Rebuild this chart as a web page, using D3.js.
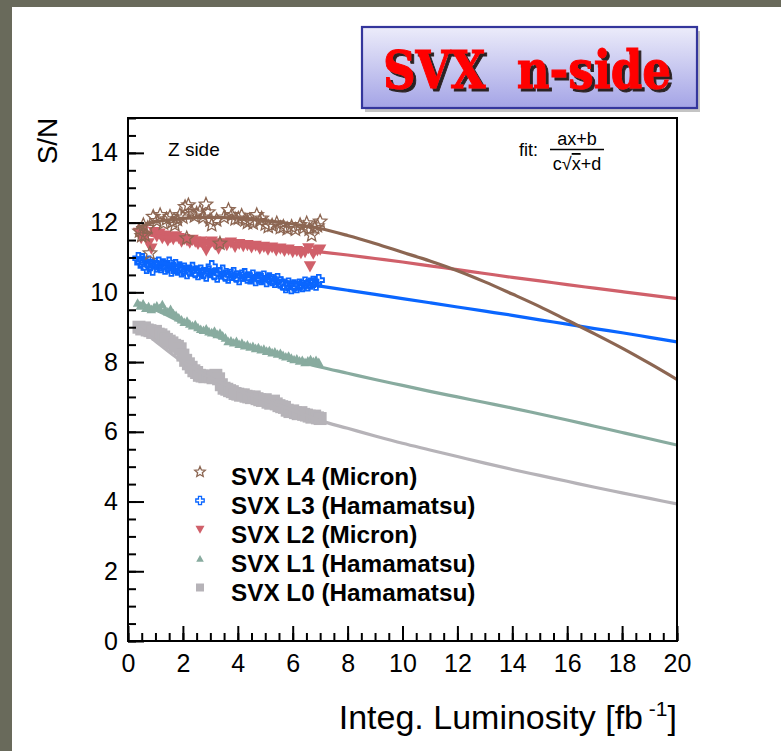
<!DOCTYPE html>
<html>
<head>
<meta charset="utf-8">
<script src="https://cdn.jsdelivr.net/npm/d3@7"></script>
<style>
  body { margin: 0; background: #ffffff; }
  svg { display: block; font-family: "Liberation Sans", Arial, sans-serif; }
</style>
</head>
<body>
<svg id="chart" width="781" height="751"></svg>
<script>
// ---- Measured S/N vs integrated luminosity (fb^-1), Z side, n-side strips ----
const l4Lumi = [0.42,0.50,0.56,0.62,0.72,0.80,0.92,1.05,1.17,1.29,1.40,1.53,1.62,1.71,1.80,1.89,2.00,2.08,2.14,2.20,2.32,2.42,2.50,2.62,2.74,2.84,2.93,2.99,3.05,3.23,3.35,3.50,3.66,3.78,3.90,4.02,4.14,4.26,4.35,4.44,4.56,4.69,4.80,4.87,5.00,5.11,5.25,5.42,5.55,5.66,5.80,5.96,6.10,6.27,6.40,6.51,6.60,6.69,6.80,6.90,7.00];
const l4SN   = [11.75,11.62,11.93,11.64,11.85,11.12,12.17,12.05,12.22,11.98,12.10,12.17,12.02,11.93,12.08,12.22,12.15,12.45,11.55,12.50,12.31,12.18,12.26,12.31,12.15,12.52,12.30,12.07,11.93,12.07,11.40,12.15,12.36,12.22,12.10,12.12,12.20,12.07,12.00,12.07,11.98,12.22,12.05,12.12,11.95,11.88,11.92,11.98,11.85,11.88,11.82,11.88,11.80,11.93,11.85,11.98,11.80,11.64,11.85,11.90,12.03];

const l3Lumi = [0.38,0.45,0.52,0.60,0.68,0.75,0.82,0.90,0.98,1.05,1.12,1.20,1.28,1.35,1.43,1.50,1.58,1.65,1.73,1.80,1.88,1.95,2.05,2.15,2.25,2.35,2.45,2.55,2.65,2.75,2.85,2.95,3.05,3.15,3.25,3.35,3.45,3.55,3.65,3.75,3.85,3.95,4.05,4.15,4.25,4.35,4.45,4.55,4.65,4.75,4.85,4.95,5.05,5.15,5.25,5.35,5.45,5.55,5.65,5.75,5.85,5.95,6.05,6.15,6.25,6.35,6.45,6.55,6.65,6.75,6.85,6.95];
const l3SN   = [10.98,10.85,10.95,10.80,10.70,10.88,10.78,10.65,10.82,10.75,10.85,10.72,10.80,10.68,10.75,10.85,10.62,10.70,10.78,10.65,10.72,10.60,10.68,10.55,10.62,10.70,10.58,10.52,10.62,10.55,10.48,10.60,10.75,10.52,10.45,10.55,10.62,10.48,10.42,10.50,10.55,10.45,10.38,10.48,10.52,10.42,10.40,10.48,10.35,10.42,10.38,10.45,10.32,10.40,10.35,10.30,10.38,10.28,10.22,10.15,10.25,10.12,10.20,10.15,10.22,10.18,10.28,10.20,10.25,10.30,10.22,10.35];

const l2Lumi = [0.40,0.48,0.55,0.65,0.75,0.85,0.95,1.05,1.15,1.25,1.35,1.45,1.55,1.65,1.75,1.85,1.95,2.05,2.15,2.25,2.35,2.45,2.55,2.65,2.75,2.85,2.95,3.05,3.15,3.30,3.45,3.60,3.75,3.90,4.05,4.20,4.35,4.50,4.65,4.80,4.95,5.10,5.25,5.40,5.55,5.70,5.85,6.00,6.15,6.30,6.45,6.57,6.63,6.75,6.90,7.00];
const l2SN   = [11.70,11.55,11.78,11.62,11.40,11.25,11.72,11.60,11.68,11.55,11.62,11.48,11.58,11.52,11.60,11.55,11.45,11.52,11.48,11.42,11.50,11.45,11.38,11.45,11.35,11.20,11.40,11.45,11.38,11.25,11.40,11.35,11.42,11.30,11.38,11.32,11.35,11.28,11.33,11.25,11.30,11.22,11.28,11.20,11.25,11.18,11.22,11.15,11.18,11.12,11.15,11.26,10.74,11.10,11.20,11.22];

const l1Lumi = [0.35,0.45,0.55,0.65,0.75,0.85,0.95,1.05,1.15,1.25,1.35,1.45,1.55,1.65,1.75,1.85,1.95,2.05,2.15,2.25,2.35,2.45,2.55,2.65,2.75,2.85,2.95,3.05,3.15,3.25,3.35,3.45,3.55,3.65,3.75,3.85,3.95,4.05,4.15,4.25,4.35,4.45,4.55,4.65,4.75,4.85,4.95,5.05,5.15,5.25,5.35,5.45,5.55,5.65,5.75,5.85,5.95,6.05,6.15,6.25,6.35,6.45,6.55,6.65,6.75,6.85,6.95];
const l1SN   = [9.70,9.62,9.68,9.55,9.60,9.52,9.58,9.62,9.55,9.66,9.50,9.45,9.52,9.40,9.35,9.28,9.22,9.15,9.18,9.10,9.05,9.08,9.00,8.95,8.92,8.96,8.88,8.85,8.90,8.80,8.84,8.76,8.70,8.60,8.62,8.56,8.60,8.52,8.55,8.48,8.50,8.44,8.46,8.40,8.42,8.36,8.38,8.32,8.34,8.28,8.30,8.24,8.26,8.20,8.16,8.18,8.12,8.08,8.10,8.04,8.06,8.00,8.04,8.08,8.02,8.06,8.00];

const l0Lumi = [0.40,0.50,0.60,0.70,0.80,0.90,1.00,1.10,1.20,1.30,1.40,1.50,1.60,1.70,1.80,1.90,2.00,2.10,2.20,2.30,2.40,2.50,2.60,2.70,2.80,2.90,3.00,3.10,3.20,3.30,3.40,3.50,3.60,3.70,3.80,3.90,4.00,4.10,4.20,4.30,4.40,4.50,4.60,4.70,4.80,4.90,5.00,5.10,5.20,5.30,5.40,5.50,5.60,5.70,5.80,5.90,6.00,6.10,6.20,6.30,6.40,6.50,6.60,6.70,6.80,6.90,7.00];
const l0SN   = [9.00,8.95,8.98,8.92,8.90,8.85,8.88,8.80,8.78,8.72,8.65,8.60,8.55,8.48,8.45,8.38,8.20,8.05,7.95,7.85,7.75,7.70,7.62,7.60,7.58,7.60,7.58,7.55,7.62,7.52,7.35,7.25,7.22,7.18,7.15,7.10,7.08,7.05,7.06,7.02,7.00,6.98,7.00,6.95,6.92,6.90,6.92,6.85,6.82,6.88,6.80,6.75,6.72,6.70,6.62,6.58,6.60,6.55,6.52,6.55,6.50,6.48,6.45,6.42,6.45,6.40,6.38];

// ---- Fit curves (ax+b)/(c*sqrt(x)+d), sampled along luminosity ----
const fitLumi = [0.3,1,2,3,4,5,6,7,8,9,10,11,12,13,14,15,16,17,18,19,20];
const fitL4 = [11.85,12.02,12.12,12.15,12.13,12.06,11.96,11.83,11.63,11.40,11.15,10.90,10.62,10.30,9.95,9.59,9.20,8.81,8.40,7.96,7.50];
const fitL3 = [11.00,10.88,10.74,10.62,10.51,10.40,10.29,10.18,10.06,9.94,9.82,9.70,9.58,9.46,9.34,9.21,9.09,8.96,8.84,8.71,8.58];
const fitL2 = [11.72,11.62,11.53,11.45,11.38,11.31,11.24,11.16,11.07,10.97,10.87,10.76,10.65,10.54,10.43,10.33,10.22,10.12,10.02,9.92,9.82];
const fitL1 = [9.72,9.50,9.12,8.80,8.52,8.28,8.07,7.86,7.68,7.50,7.33,7.16,7.00,6.84,6.68,6.51,6.34,6.16,5.98,5.80,5.62];
const fitL0 = [9.05,8.60,8.00,7.55,7.20,6.90,6.62,6.32,6.10,5.88,5.67,5.48,5.29,5.10,4.92,4.75,4.58,4.41,4.25,4.09,3.93];

const seriesNames = ["SVX L4 (Micron)", "SVX L3 (Hamamatsu)", "SVX L2 (Micron)", "SVX L1 (Hamamatsu)", "SVX L0 (Hamamatsu)"];
const seriesColors = ["#8c6652", "#0a66ff", "#d0606a", "#88ab9f", "#b6b3b8"];
const xTicks = [0,2,4,6,8,10,12,14,16,18,20];
const yTicks = [0,2,4,6,8,10,12,14];

// ---- Layout ----
const svg = d3.select("#chart");
const W = 781, H = 751;
const plot = { left: 128, right: 677, top: 118, bottom: 641 };

const x = d3.scaleLinear().domain([0, 20]).range([plot.left, plot.right]);
const y = d3.scaleLinear().domain([0, 15]).range([plot.bottom, plot.top]);

const defs = svg.append("defs");

// Page background with slide border strips
svg.append("rect").attr("width", W).attr("height", H).attr("fill", "#ffffff");
svg.append("rect").attr("x", 0).attr("y", 0).attr("width", W).attr("height", 7).attr("fill", "#696a5b");
svg.append("rect").attr("x", 0).attr("y", 0).attr("width", 12).attr("height", H).attr("fill", "#696a5b");

// ---- Marker shapes ----
function starPath(r) {
  const pts = [];
  for (let i = 0; i < 10; i++) {
    const a = -Math.PI / 2 + i * Math.PI / 5;
    const rr = i % 2 === 0 ? r : r * 0.45;
    pts.push([rr * Math.cos(a), rr * Math.sin(a)]);
  }
  return "M" + pts.map(p => p[0].toFixed(2) + "," + p[1].toFixed(2)).join("L") + "Z";
}
function crossPath(r) {
  const a = r * 0.36;
  return `M${-a},${-r}H${a}V${-a}H${r}V${a}H${a}V${r}H${-a}V${a}H${-r}V${-a}H${-a}Z`;
}
function triDownPath(r) { return `M${-r},${-r * 0.85}L${r},${-r * 0.85}L0,${r * 0.95}Z`; }
function triUpPath(r) { return `M${-r},${r * 0.85}L${r},${r * 0.85}L0,${-r * 0.95}Z`; }
function squarePath(s) { const h = s / 2; return `M${-h},${-h}H${h}V${h}H${-h}Z`; }

const markerDefs = [
  { path: starPath(7),    fill: "none", stroke: seriesColors[0], sw: 1.3 },
  { path: crossPath(5.2), fill: "none", stroke: seriesColors[1], sw: 1.8 },
  { path: triDownPath(6.2), fill: seriesColors[2], stroke: "none", sw: 0 },
  { path: triUpPath(4.8), fill: seriesColors[3], stroke: "none", sw: 0 },
  { path: squarePath(13), fill: seriesColors[4], stroke: "none", sw: 0 }
];
const legendMarkers = [
  { path: starPath(5.5) }, { path: crossPath(4.2) }, { path: triDownPath(4.5) },
  { path: triUpPath(3.8) }, { path: squarePath(8) }
];

const dataSets = [
  { lumi: l4Lumi, sn: l4SN, fit: fitL4 },
  { lumi: l3Lumi, sn: l3SN, fit: fitL3 },
  { lumi: l2Lumi, sn: l2SN, fit: fitL2 },
  { lumi: l1Lumi, sn: l1SN, fit: fitL1 },
  { lumi: l0Lumi, sn: l0SN, fit: fitL0 }
];

// ---- Clip region for the plot ----
defs.append("clipPath").attr("id", "plotClip")
  .append("rect")
  .attr("x", plot.left).attr("y", plot.top)
  .attr("width", plot.right - plot.left).attr("height", plot.bottom - plot.top);

const dataLayer = svg.append("g").attr("clip-path", "url(#plotClip)");
const line = d3.line().x(d => x(d[0])).y(d => y(d[1])).curve(d3.curveMonotoneX);

// Draw from L0 (bottom layer) up to L4
for (let i = dataSets.length - 1; i >= 0; i--) {
  const ds = dataSets[i], mk = markerDefs[i];
  const pts = ds.lumi.map((v, j) => [v, ds.sn[j]]);
  dataLayer.append("g").selectAll("path").data(pts).join("path")
    .attr("d", mk.path)
    .attr("transform", d => `translate(${x(d[0])},${y(d[1])})`)
    .attr("fill", mk.fill).attr("stroke", mk.stroke).attr("stroke-width", mk.sw);
  const fitPts = fitLumi.map((v, j) => [v, ds.fit[j]]);
  dataLayer.append("path").datum(fitPts)
    .attr("d", line).attr("fill", "none")
    .attr("stroke", seriesColors[i]).attr("stroke-width", 3.2)
    .attr("stroke-linejoin", "round");
}

// ---- Axes (ticks pointing into the plot) ----
const yMinor = d3.range(0, 15.01, 0.5);
const xMinor = d3.range(0, 20.01, 0.5);

const yAxisMinor = d3.axisLeft(y).tickValues(yMinor).tickSizeInner(-8).tickSizeOuter(0).tickFormat("");
const yAxisMajor = d3.axisLeft(y).tickValues(yTicks).tickSizeInner(-16).tickSizeOuter(0).tickPadding(10).tickFormat(d3.format("d"));
const xAxisMinor = d3.axisBottom(x).tickValues(xMinor).tickSizeInner(-8).tickSizeOuter(0).tickFormat("");
const xAxisMajor = d3.axisBottom(x).tickValues(xTicks).tickSizeInner(-15).tickSizeOuter(0).tickPadding(13).tickFormat(d3.format("d"));

function styleAxis(g) {
  g.select(".domain").remove();
  g.selectAll(".tick line").attr("stroke", "#000").attr("stroke-width", 2);
  g.selectAll(".tick text").attr("fill", "#000").attr("font-size", 25)
    .attr("font-family", "'Liberation Sans', Arial, sans-serif");
}
svg.append("g").attr("transform", `translate(${plot.left},0)`).call(yAxisMinor).call(styleAxis);
svg.append("g").attr("transform", `translate(${plot.left},0)`).call(yAxisMajor).call(styleAxis);
svg.append("g").attr("transform", `translate(0,${plot.bottom})`).call(xAxisMinor).call(styleAxis);
svg.append("g").attr("transform", `translate(0,${plot.bottom})`).call(xAxisMajor).call(styleAxis);

// Frame
svg.append("rect")
  .attr("x", plot.left).attr("y", plot.top)
  .attr("width", plot.right - plot.left).attr("height", plot.bottom - plot.top)
  .attr("fill", "none").attr("stroke", "#000").attr("stroke-width", 2);

// ---- Axis titles ----
svg.append("text")
  .attr("transform", `translate(57,141) rotate(-90)`)
  .attr("text-anchor", "middle")
  .attr("font-size", 28).attr("fill", "#000")
  .text("S/N");

const xTitle = svg.append("text")
  .attr("x", plot.right).attr("y", 729)
  .attr("text-anchor", "end")
  .attr("font-size", 34).attr("fill", "#000");
xTitle.append("tspan").text("Integ. Luminosity [fb");
xTitle.append("tspan").attr("font-size", 21).attr("dy", -13).text(" -1");
xTitle.append("tspan").attr("dy", 13).text("]");

// ---- In-plot annotations ----
svg.append("text").attr("x", 168).attr("y", 156)
  .attr("font-size", 19).attr("fill", "#000").text("Z side");

svg.append("text").attr("x", 519).attr("y", 156)
  .attr("font-size", 18).attr("fill", "#000").text("fit:");
svg.append("text").attr("x", 577).attr("y", 145).attr("text-anchor", "middle")
  .attr("font-size", 18).attr("fill", "#000").text("ax+b");
svg.append("line").attr("x1", 550).attr("x2", 604).attr("y1", 149.5).attr("y2", 149.5)
  .attr("stroke", "#000").attr("stroke-width", 1.3);
const den = svg.append("text").attr("x", 577).attr("y", 170).attr("text-anchor", "middle")
  .attr("font-size", 18).attr("fill", "#000");
den.append("tspan").text("c\u221A");
den.append("tspan").attr("text-decoration", "overline").text("x");
den.append("tspan").text("+d");

// ---- Legend ----
const legendY = [485, 513.5, 542.5, 571.5, 600.5];
const legend = svg.append("g");
seriesNames.forEach((name, i) => {
  const mk = markerDefs[i];
  legend.append("path").attr("d", legendMarkers[i].path)
    .attr("transform", `translate(200,${legendY[i] - 13})`)
    .attr("fill", mk.fill).attr("stroke", mk.stroke).attr("stroke-width", mk.sw ? 1.3 : 0);
  legend.append("text").attr("x", 231).attr("y", legendY[i])
    .attr("font-size", 24.3).attr("font-weight", "bold").attr("fill", "#000")
    .text(name);
});

// ---- Title box ----
const grad = defs.append("linearGradient").attr("id", "boxGrad")
  .attr("x1", 0).attr("y1", 0).attr("x2", 0).attr("y2", 1);
grad.append("stop").attr("offset", "0%").attr("stop-color", "#ececfa");
grad.append("stop").attr("offset", "100%").attr("stop-color", "#a4a4e6");

// dark drop shadow behind the title lettering
const shadow = defs.append("filter").attr("id", "titleShadow")
  .attr("x", "-5%").attr("y", "-10%").attr("width", "115%").attr("height", "130%");
shadow.append("feOffset").attr("in", "SourceAlpha").attr("dx", 3).attr("dy", 3).attr("result", "off");
shadow.append("feFlood").attr("flood-color", "#2a2222").attr("result", "col");
shadow.append("feComposite").attr("in", "col").attr("in2", "off").attr("operator", "in").attr("result", "sh");
const merge = shadow.append("feMerge");
merge.append("feMergeNode").attr("in", "sh");
merge.append("feMergeNode").attr("in", "SourceGraphic");

const box = { x: 362, y: 27, w: 335, h: 81 };
svg.append("rect").attr("x", box.x + 3).attr("y", box.y + 4).attr("width", box.w).attr("height", box.h)
  .attr("fill", "#c4c4c4");
svg.append("rect").attr("x", box.x).attr("y", box.y).attr("width", box.w).attr("height", box.h)
  .attr("fill", "url(#boxGrad)").attr("stroke", "#34369c").attr("stroke-width", 2.2);

svg.append("text").attr("x", 383).attr("y", 88)
  .attr("font-family", "'DejaVu Serif', serif").attr("font-weight", "bold")
  .attr("font-size", 52).attr("fill", "#ff0000")
  .attr("stroke", "#ff0000").attr("stroke-width", 1)
  .attr("textLength", 288).attr("lengthAdjust", "spacingAndGlyphs")
  .attr("filter", "url(#titleShadow)")
  .style("white-space", "pre")
  .text("SVX  n-side");
</script>
</body>
</html>
